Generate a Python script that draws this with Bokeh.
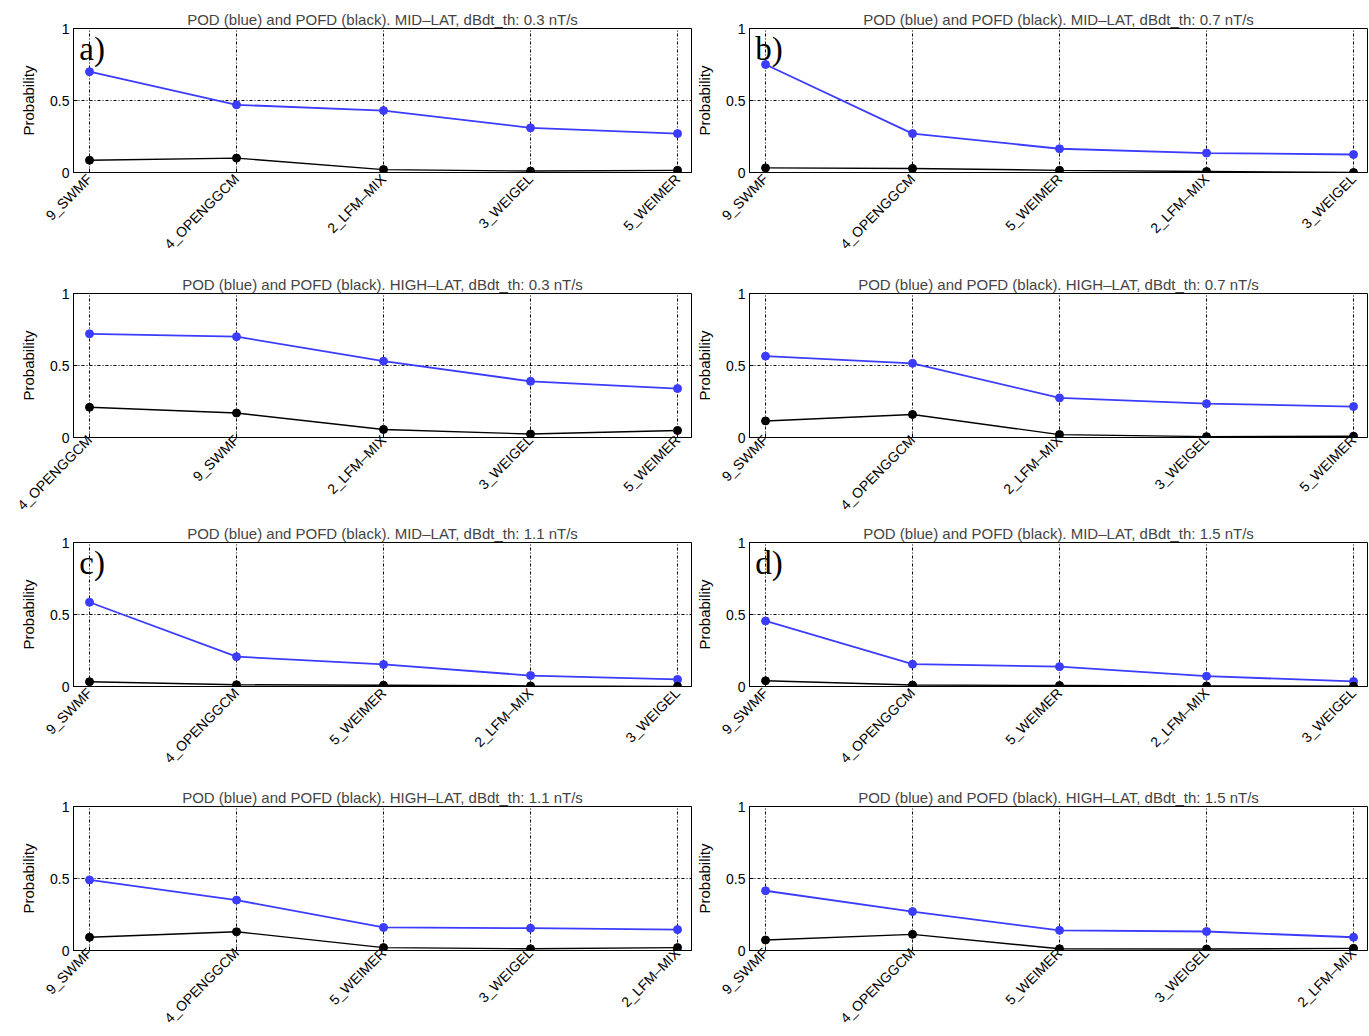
from math import pi
from bokeh.plotting import figure
from bokeh.layouts import gridplot
from bokeh.models import Range1d, FixedTicker, Label, NumeralTickFormatter
from bokeh.embed import file_html
from bokeh.resources import INLINE

# ---------------- data ----------------
title_a = "POD (blue) and POFD (black). MID–LAT, dBdt_th: 0.3 nT/s"
cats_a = ["9_SWMF", "4_OPENGGCM", "2_LFM–MIX", "3_WEIGEL", "5_WEIMER"]
pod_a = [0.70, 0.47, 0.43, 0.31, 0.27]
pofd_a = [0.085, 0.10, 0.02, 0.01, 0.015]

title_b = "POD (blue) and POFD (black). MID–LAT, dBdt_th: 0.7 nT/s"
cats_b = ["9_SWMF", "4_OPENGGCM", "5_WEIMER", "2_LFM–MIX", "3_WEIGEL"]
pod_b = [0.75, 0.27, 0.165, 0.135, 0.125]
pofd_b = [0.032, 0.028, 0.015, 0.007, 0.0]

title_e = "POD (blue) and POFD (black). HIGH–LAT, dBdt_th: 0.3 nT/s"
cats_e = ["4_OPENGGCM", "9_SWMF", "2_LFM–MIX", "3_WEIGEL", "5_WEIMER"]
pod_e = [0.72, 0.70, 0.53, 0.39, 0.34]
pofd_e = [0.21, 0.17, 0.056, 0.024, 0.049]

title_f = "POD (blue) and POFD (black). HIGH–LAT, dBdt_th: 0.7 nT/s"
cats_f = ["9_SWMF", "4_OPENGGCM", "2_LFM–MIX", "3_WEIGEL", "5_WEIMER"]
pod_f = [0.565, 0.515, 0.275, 0.235, 0.215]
pofd_f = [0.115, 0.16, 0.02, 0.006, 0.009]

title_c = "POD (blue) and POFD (black). MID–LAT, dBdt_th: 1.1 nT/s"
cats_c = ["9_SWMF", "4_OPENGGCM", "5_WEIMER", "2_LFM–MIX", "3_WEIGEL"]
pod_c = [0.585, 0.207, 0.153, 0.076, 0.049]
pofd_c = [0.033, 0.012, 0.009, 0.004, 0.001]

title_d = "POD (blue) and POFD (black). MID–LAT, dBdt_th: 1.5 nT/s"
cats_d = ["9_SWMF", "4_OPENGGCM", "5_WEIMER", "2_LFM–MIX", "3_WEIGEL"]
pod_d = [0.455, 0.155, 0.138, 0.072, 0.035]
pofd_d = [0.04, 0.01, 0.007, 0.004, 0.002]

title_g = "POD (blue) and POFD (black). HIGH–LAT, dBdt_th: 1.1 nT/s"
cats_g = ["9_SWMF", "4_OPENGGCM", "5_WEIMER", "3_WEIGEL", "2_LFM–MIX"]
pod_g = [0.49, 0.35, 0.16, 0.155, 0.145]
pofd_g = [0.092, 0.13, 0.02, 0.012, 0.02]

title_h = "POD (blue) and POFD (black). HIGH–LAT, dBdt_th: 1.5 nT/s"
cats_h = ["9_SWMF", "4_OPENGGCM", "5_WEIMER", "3_WEIGEL", "2_LFM–MIX"]
pod_h = [0.415, 0.27, 0.14, 0.132, 0.092]
pofd_h = [0.073, 0.112, 0.012, 0.01, 0.015]

BLUE = "#3c3cff"
FONT = "Liberation Sans"


def make_panel(title, cats, pod, pofd, letter, left, right, top, bottom, xstand):
    p = figure(frame_width=618, frame_height=144,
               x_range=Range1d(-0.109, 4.095), y_range=Range1d(0, 1),
               output_backend="svg", toolbar_location=None,
               min_border_left=left, min_border_right=right,
               min_border_top=top, min_border_bottom=bottom)
    p.title.text = title
    p.title.align = "center"
    p.title.text_font = FONT
    p.title.text_font_size = "15px"
    p.title.text_font_style = "normal"
    p.title.standoff = 2
    p.title.offset = 0

    xs = list(range(len(cats)))
    p.line(xs, pod, line_color=BLUE, line_width=1.8)
    p.scatter(xs, pod, size=8, fill_color=BLUE, line_color=BLUE)
    p.line(xs, pofd, line_color="black", line_width=1.4)
    p.scatter(xs, pofd, size=8, fill_color="black", line_color="black")

    xa = p.xaxis[0]
    xa.ticker = FixedTicker(ticks=xs)
    xa.major_label_overrides = {i: c for i, c in enumerate(cats)}
    xa.major_label_orientation = pi / 4
    xa.major_label_text_font = FONT
    xa.major_label_text_font_size = "14px"
    xa.major_label_standoff = xstand

    ya = p.yaxis[0]
    ya.ticker = FixedTicker(ticks=[0, 0.5, 1])
    ya.formatter = NumeralTickFormatter(format="0.[0]")
    ya.major_label_text_font = FONT
    ya.major_label_text_font_size = "14px"
    ya.major_label_standoff = 4
    ya.axis_label = "Probability"
    ya.axis_label_text_font = FONT
    ya.axis_label_text_font_size = "15px"
    ya.axis_label_text_font_style = "normal"
    ya.axis_label_standoff = 10

    for ax in (xa, ya):
        ax.major_tick_in = 4
        ax.major_tick_out = 0
        ax.minor_tick_line_color = None
        ax.axis_line_color = "black"
        ax.major_tick_line_color = "black"
        ax.major_label_text_color = "black"
        ax.axis_label_text_color = "black"

    for g in (p.xgrid[0], p.ygrid[0]):
        g.grid_line_color = "black"
        g.grid_line_alpha = 1.0
        g.grid_line_width = 1
        g.grid_line_dash = "3 2 1 2"

    p.outline_line_color = "black"
    p.outline_line_alpha = 1.0
    p.outline_line_width = 1

    if letter:
        p.add_layout(Label(x=-0.07, y=0.985, text=letter, text_font="Liberation Serif",
                           text_font_size="33px", text_baseline="top", text_color="black"))
    return p


LB, LR, RB, RR = 73, 2, 55, 2
pa = make_panel(title_a, cats_a, pod_a, pofd_a, "a)", LB, LR, 28, 99, 4)
pb = make_panel(title_b, cats_b, pod_b, pofd_b, "b)", RB, RR, 28, 99, 4)
pe = make_panel(title_e, cats_e, pod_e, pofd_e, None, LB, LR, 22, 84, 0)
pf = make_panel(title_f, cats_f, pod_f, pofd_f, None, RB, RR, 22, 84, 0)
pc = make_panel(title_c, cats_c, pod_c, pofd_c, "c)", LB, LR, 20, 98, 4)
pd = make_panel(title_d, cats_d, pod_d, pofd_d, "d)", RB, RR, 20, 98, 4)
pg = make_panel(title_g, cats_g, pod_g, pofd_g, None, LB, LR, 22, 84, 0)
ph = make_panel(title_h, cats_h, pod_h, pofd_h, None, RB, RR, 22, 84, 0)

grid = gridplot([[pa, pb], [pe, pf], [pc, pd], [pg, ph]], toolbar_location=None)

open("out.html", "w").write(file_html(grid, INLINE))
